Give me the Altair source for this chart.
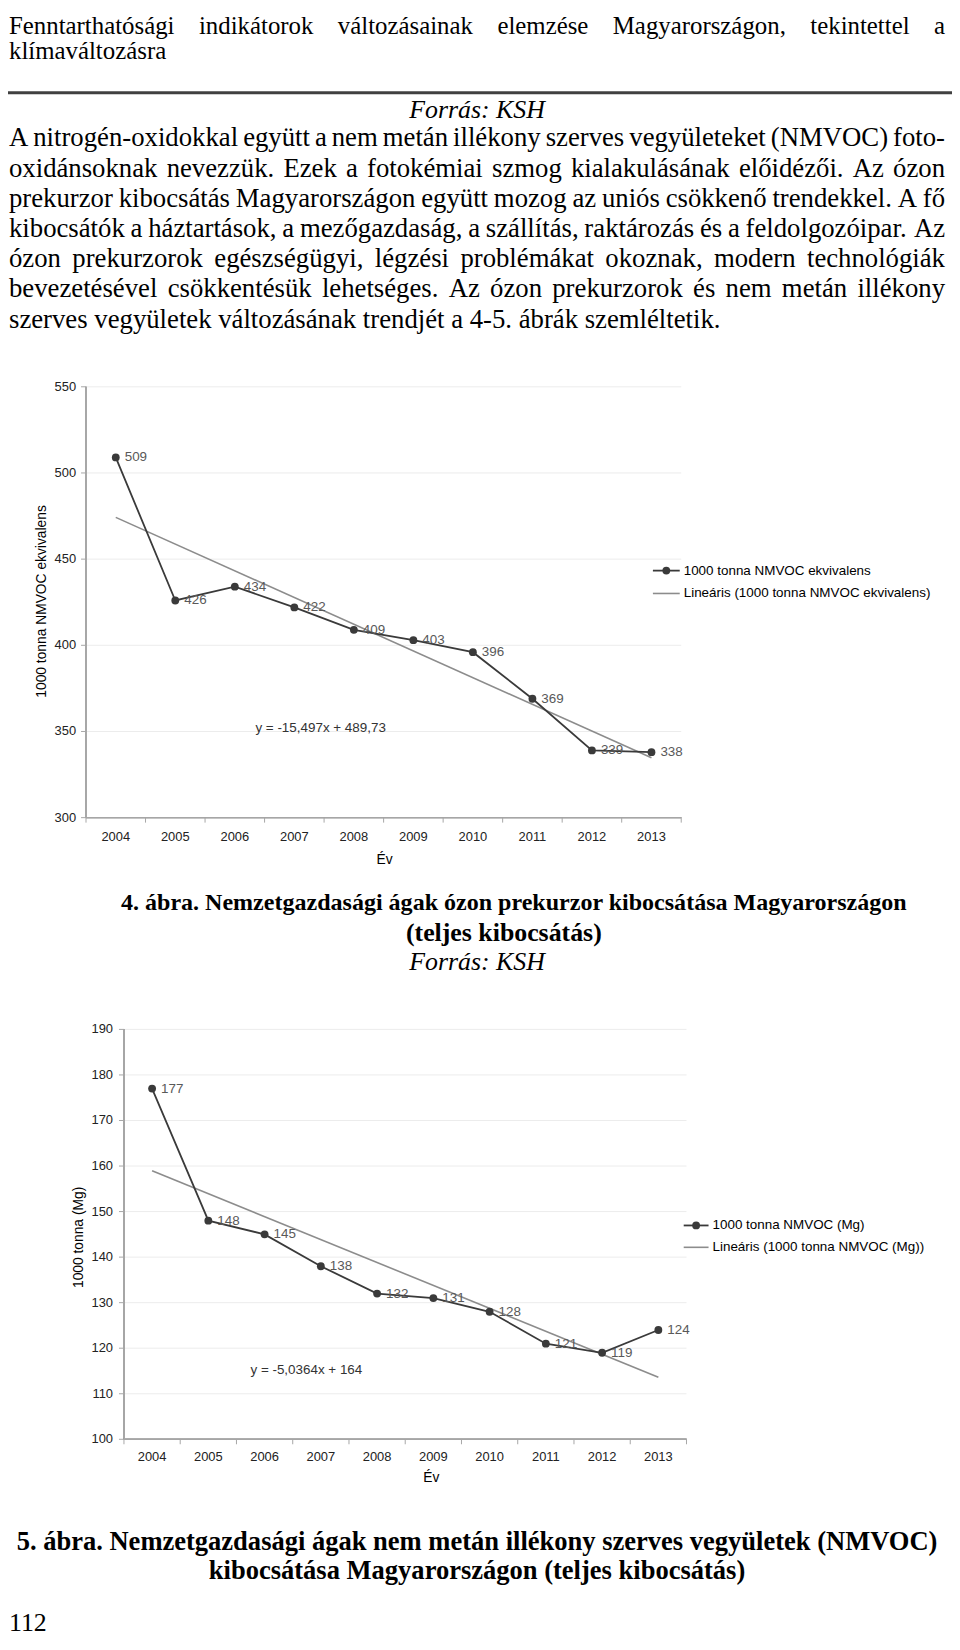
import altair as alt
import pandas as pd

# ---------------- data ----------------
years = [2004, 2005, 2006, 2007, 2008, 2009, 2010, 2011, 2012, 2013]
ozone = [509, 426, 434, 422, 409, 403, 396, 369, 339, 338]
nmvoc = [177, 148, 145, 138, 132, 131, 128, 121, 119, 124]
ticks1 = [300, 350, 400, 450, 500, 550]
ticks2 = [100, 110, 120, 130, 140, 150, 160, 170, 180, 190]

series1_name = "1000 tonna NMVOC ekvivalens"
trend1_name = "Lineáris (1000 tonna NMVOC ekvivalens)"
series2_name = "1000 tonna NMVOC (Mg)"
trend2_name = "Lineáris (1000 tonna NMVOC (Mg))"
eq1 = "y = -15,497x + 489,73"
eq2 = "y = -5,0364x + 164"
ytitle1 = "1000 tonna NMVOC ekvivalens"
ytitle2 = "1000 tonna (Mg)"
xtitle = "Év"

header_lines = [
    "Fenntarthatósági indikátorok változásainak elemzése Magyarországon, tekintettel a",
    "klímaváltozásra",
]
source_text = "Forrás: KSH"
para_lines = [
    "A nitrogén-oxidokkal együtt a nem metán illékony szerves vegyületeket (NMVOC) foto-",
    "oxidánsoknak nevezzük. Ezek a fotokémiai szmog kialakulásának előidézői. Az ózon",
    "prekurzor kibocsátás Magyarországon együtt mozog az uniós csökkenő trendekkel. A fő",
    "kibocsátók a háztartások, a mezőgazdaság, a szállítás, raktározás és a feldolgozóipar. Az",
    "ózon prekurzorok egészségügyi, légzési problémákat okoznak, modern technológiák",
    "bevezetésével csökkentésük lehetséges. Az ózon prekurzorok és nem metán illékony",
    "szerves vegyületek változásának trendjét a 4-5. ábrák szemléltetik.",
]
caption4 = ["4. ábra. Nemzetgazdasági ágak ózon prekurzor kibocsátása Magyarországon",
            "(teljes kibocsátás)"]
caption5 = ["5. ábra. Nemzetgazdasági ágak nem metán illékony szerves vegyületek (NMVOC)",
            "kibocsátása Magyarországon (teljes kibocsátás)"]
page_number = "112"

# ---------------- layout helpers ----------------
W, H = 950, 1634
M = 8  # page margin


def c(v):
    return v - M


TIMES = {' ': 250, 'A': 722, 'B': 667, 'C': 667, 'D': 722, 'E': 611, 'F': 556, 'G': 722,
         'H': 722, 'I': 333, 'J': 389, 'K': 722, 'L': 611, 'M': 889, 'N': 722, 'O': 722,
         'P': 556, 'Q': 722, 'R': 667, 'S': 556, 'T': 611, 'U': 722, 'V': 722, 'W': 944,
         'X': 722, 'Y': 722, 'Z': 611, 'a': 444, 'b': 500, 'c': 444, 'd': 500, 'e': 444,
         'f': 333, 'g': 500, 'h': 500, 'i': 278, 'j': 278, 'k': 500, 'l': 278, 'm': 778,
         'n': 500, 'o': 500, 'p': 500, 'q': 500, 'r': 333, 's': 389, 't': 278, 'u': 500,
         'v': 500, 'w': 722, 'x': 500, 'y': 500, 'z': 444, '.': 250, ',': 250, ':': 278,
         '-': 333, '(': 333, ')': 333}
ACC = {'á': 'a', 'é': 'e', 'í': 'i', 'ó': 'o', 'ö': 'o', 'ő': 'o', 'ú': 'u', 'ü': 'u',
       'ű': 'u', 'Á': 'A', 'É': 'E', 'Í': 'I', 'Ó': 'O', 'Ö': 'O', 'Ő': 'O', 'Ú': 'U',
       'Ü': 'U', 'Ű': 'U'}


def tw(s, size):
    tot = 0
    for ch in s:
        ch = ACC.get(ch, ch)
        tot += 500 if ch.isdigit() else TIMES.get(ch, 500)
    return tot * size / 1000.0


X0, X1 = c(9), c(951)
rows = []


def add_line(line, y, size, justify):
    words = line.split(' ')
    if not justify or len(words) < 2:
        rows.append({'t': line, 'x': X0, 'y': y, 's': size})
        return
    widths = [tw(w, size) for w in words]
    gap = (X1 - X0 - sum(widths)) / (len(words) - 1)
    gap = max(gap, 0.15 * size)
    x = X0
    for w, wd in zip(words, widths):
        rows.append({'t': w, 'x': x, 'y': y, 's': size})
        x += wd + gap


HEAD = 25
BODY = 26.9
add_line(header_lines[0], c(20.5), HEAD, True)
add_line(header_lines[1], c(46), HEAD, False)
for i, ln in enumerate(para_lines):
    add_line(ln, c(134 + 30.4 * i), BODY, i < len(para_lines) - 1)
words_df = pd.DataFrame(rows)

body_text = alt.Chart(words_df).mark_text(
    align='left', baseline='middle', font='Liberation Serif', color='#000'
).encode(x=alt.X('x:Q', scale=None, axis=None), y=alt.Y('y:Q', scale=None, axis=None),
         size=alt.Size('s:Q', scale=None, legend=None), text='t:N')


def ptext(txt, x, y, size=26, align='center', style='normal', weight='normal',
          font='Liberation Serif', color='#000', angle=0):
    return alt.Chart(pd.DataFrame({'t': [txt]})).mark_text(
        align=align, baseline='middle', font=font, fontSize=size, fontStyle=style,
        fontWeight=weight, color=color, angle=angle
    ).encode(x=alt.value(x), y=alt.value(y), text='t:N')


page_layers = [
    body_text,
    alt.Chart(pd.DataFrame({'a': [0]})).mark_rule(color='#404040', strokeWidth=3).encode(
        x=alt.value(0), x2=alt.value(W), y=alt.value(c(88))),
    ptext(source_text, c(480), c(106), size=26, style='italic'),
    ptext(caption4[0], c(517), c(904), size=24.2, weight='bold'),
    ptext(caption4[1], c(507), c(934), size=26, weight='bold'),
    ptext(source_text, c(480), c(963), size=26, style='italic'),
    ptext(caption5[0], c(480), c(1547), size=26.7, weight='bold'),
    ptext(caption5[1], c(480), c(1576), size=26.7, weight='bold'),
    ptext(page_number, c(9), c(1628), size=26, align='left'),
]

SANS = 'Liberation Sans'
AX = '#a6a6a6'
GRID = '#ececec'
LINE = '#3a3a3a'
TREND = '#8c8c8c'
LBL = '#595959'
FS = 13.5


def panel(values, ticks, xs, ys, y_lbl_dx, x_lbl_dy, legend, eq, ytitle, evpos):
    df = pd.DataFrame({'year': years, 'value': values})
    tk = pd.DataFrame({'v': ticks})
    bounds = pd.DataFrame({'b': [y - 0.5 for y in years] + [years[-1] + 0.5]})
    xmin = years[0] - 0.5
    xmax = years[-1] + 0.5
    ymin, ymax = ticks[0], ticks[-1]

    X = lambda f: alt.X(f, scale=xs, axis=None)
    Y = lambda f: alt.Y(f, scale=ys, axis=None)
    XD = lambda d: alt.XDatum(d, scale=xs, axis=None)
    YD = lambda d: alt.YDatum(d, scale=ys, axis=None)

    grid = alt.Chart(tk).mark_rule(color=GRID, strokeWidth=1).encode(
        y=Y('v:Q'), x=XD(xmin), x2=alt.X2Datum(xmax))
    yaxis = alt.Chart(tk).mark_rule(color=AX).encode(
        x=XD(xmin), y=YD(ymin), y2=alt.Y2Datum(ymax))
    xaxis = alt.Chart(tk).mark_rule(color=AX).encode(
        y=YD(ymin), x=XD(xmin), x2=alt.X2Datum(xmax))
    yticks = alt.Chart(tk).mark_rule(color=AX, x2Offset=-5).encode(
        y=Y('v:Q'), x=XD(xmin), x2=alt.X2Datum(xmin))
    xticks = alt.Chart(bounds).mark_rule(color=AX, y2Offset=5).encode(
        x=X('b:Q'), y=YD(ymin), y2=alt.Y2Datum(ymin))
    ylabels = alt.Chart(tk).mark_text(align='right', baseline='middle', font=SANS,
                                      fontSize=FS - 0.5, dx=y_lbl_dx, color='#222').encode(
        y=Y('v:Q'), x=XD(xmin), text='v:Q')
    xlabels = alt.Chart(df).mark_text(align='center', baseline='middle', font=SANS,
                                      fontSize=FS - 0.5, dy=x_lbl_dy, color='#222').encode(
        x=X('year:Q'), y=YD(ymin), text=alt.Text('year:Q', format='d'))
    trend = alt.Chart(df).transform_regression('year', 'value').mark_line(
        color=TREND, strokeWidth=1.6).encode(x=X('year:Q'), y=Y('value:Q'))
    line = alt.Chart(df).mark_line(color=LINE, strokeWidth=1.8).encode(
        x=X('year:Q'), y=Y('value:Q'))
    pts = alt.Chart(df).mark_circle(color=LINE, size=62, opacity=1).encode(
        x=X('year:Q'), y=Y('value:Q'))
    vlabels = alt.Chart(df).mark_text(align='left', baseline='middle', font=SANS,
                                      fontSize=FS, dx=9, color=LBL).encode(
        x=X('year:Q'), y=Y('value:Q'), text='value:Q')

    (lx0, lx1, ldot, ltx, ly1, ly2, s_name, t_name) = legend
    one = pd.DataFrame({'a': [0]})
    leg = [
        alt.Chart(one).mark_rule(color=LINE, strokeWidth=1.8).encode(
            x=alt.value(lx0), x2=alt.value(lx1), y=alt.value(ly1)),
        alt.Chart(one).mark_circle(color=LINE, size=62, opacity=1).encode(
            x=alt.value(ldot), y=alt.value(ly1)),
        ptext(s_name, ltx, ly1, size=FS, align='left', font=SANS),
        alt.Chart(one).mark_rule(color=TREND, strokeWidth=1.6).encode(
            x=alt.value(lx0), x2=alt.value(lx1), y=alt.value(ly2)),
        ptext(t_name, ltx, ly2, size=FS, align='left', font=SANS),
    ]
    eqt, ex, ey = eq
    yt, ytx, yty = ytitle
    extras = [
        ptext(eqt, ex, ey, size=FS, align='left', font=SANS, color='#333'),
        ptext(yt, ytx, yty, size=FS + 0.4, font=SANS, angle=270),
        ptext(xtitle, evpos[0], evpos[1], size=FS + 0.4, font=SANS),
    ]
    return alt.layer(grid, yaxis, xaxis, yticks, xticks, ylabels, xlabels,
                     trend, line, pts, vlabels, *leg, *extras)


xs1 = alt.Scale(domain=[2003.5, 2013.5], range=[c(86.5), c(685.5)], nice=False, zero=False)
ys1 = alt.Scale(domain=[300, 550], range=[c(817.6), c(384)], nice=False, zero=False)
xs2 = alt.Scale(domain=[2003.5, 2013.5], range=[c(124.7), c(690.8)], nice=False, zero=False)
ys2 = alt.Scale(domain=[100, 190], range=[c(1443.2), c(1030.7)], nice=False, zero=False)

p1 = panel(ozone, ticks1, xs1, ys1, -10, 19,
           (c(657), c(684), c(670.5), c(688), c(569), c(592), series1_name, trend1_name),
           (eq1, c(257), c(727)), (ytitle1, c(42), c(600)), (c(387), c(860)))
p2 = panel(nmvoc, ticks2, xs2, ys2, -11, 18,
           (c(688), c(713), c(700.5), c(717), c(1228), c(1250), series2_name, trend2_name),
           (eq2, c(252), c(1373)), (ytitle2, c(79), c(1240)), (c(434), c(1482)))

chart = alt.layer(alt.layer(*page_layers), p1, p2).resolve_scale(
    x='independent', y='independent', size='independent'
).properties(
    width=W, height=H, autosize=alt.AutoSizeParams(type='none'), padding=0
).configure(background='white').configure_view(stroke=None)

chart.save("out.html", embed_options={"renderer": "svg", "actions": False})
